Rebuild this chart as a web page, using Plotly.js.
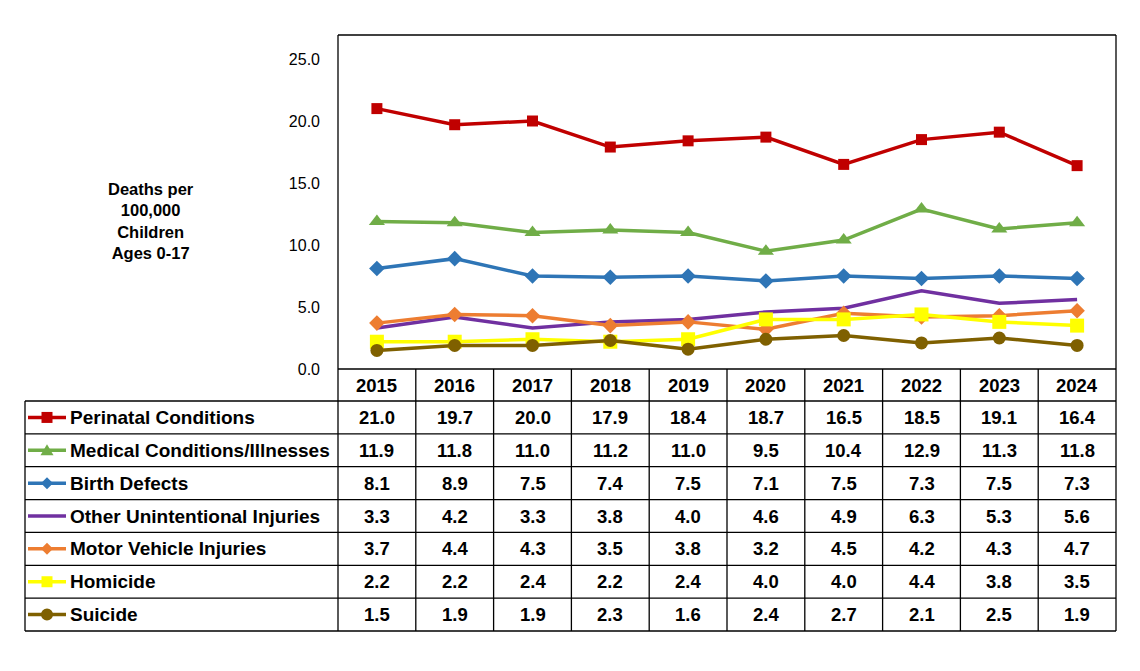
<!DOCTYPE html>
<html><head><meta charset="utf-8">
<script src="https://cdn.plot.ly/plotly-3.0.1.min.js"></script>
<style>html,body{margin:0;padding:0;background:#fff}#chart{width:1140px;height:671px}</style>
</head><body><div id="chart"></div>
<script>
const years = [2015, 2016, 2017, 2018, 2019, 2020, 2021, 2022, 2023, 2024];
const seriesNames = ["Perinatal Conditions", "Medical Conditions/Illnesses", "Birth Defects", "Other Unintentional Injuries", "Motor Vehicle Injuries", "Homicide", "Suicide"];
const perinatal = [21.0, 19.7, 20.0, 17.9, 18.4, 18.7, 16.5, 18.5, 19.1, 16.4];
const medical = [11.9, 11.8, 11.0, 11.2, 11.0, 9.5, 10.4, 12.9, 11.3, 11.8];
const birthDefects = [8.1, 8.9, 7.5, 7.4, 7.5, 7.1, 7.5, 7.3, 7.5, 7.3];
const otherUnintentional = [3.3, 4.2, 3.3, 3.8, 4.0, 4.6, 4.9, 6.3, 5.3, 5.6];
const motorVehicle = [3.7, 4.4, 4.3, 3.5, 3.8, 3.2, 4.5, 4.2, 4.3, 4.7];
const homicide = [2.2, 2.2, 2.4, 2.2, 2.4, 4.0, 4.0, 4.4, 3.8, 3.5];
const suicide = [1.5, 1.9, 1.9, 2.3, 1.6, 2.4, 2.7, 2.1, 2.5, 1.9];
const yTickVals = [0, 5, 10, 15, 20, 25];
const yTitle = "Deaths per<br>100,000<br>Children<br>Ages 0-17";

const seriesValues = [perinatal, medical, birthDefects, otherUnintentional, motorVehicle, homicide, suicide];
const styles = [
  {color: "#C00000", symbol: "square", size: 11},
  {color: "#70AD47", symbol: "triangle-up", size: 14},
  {color: "#2E75B6", symbol: "diamond", size: 12},
  {color: "#7030A0", symbol: null, size: 0},
  {color: "#ED7D31", symbol: "diamond", size: 12},
  {color: "#FFFF00", symbol: "square", size: 14},
  {color: "#7F6000", symbol: "circle", size: 13}
];

const W = 1140, H = 671;
const plotL = 338, plotR = 1116, plotT = 35, plotB = 369;
const tableL = 25, headB = 401, rowH = 32.86;
const px = x => x / W;
const py = y => 1 - y / H;
const FONT = "Liberation Sans, Arial, sans-serif";
const CELL = 18.5, LABEL = 19;

const traces = seriesValues.map((vals, i) => {
  const t = {
    x: years, y: vals, name: seriesNames[i], type: "scatter",
    mode: styles[i].symbol ? "lines+markers" : "lines",
    line: {color: styles[i].color, width: 3.5},
    hoverinfo: "x+y+name"
  };
  if (styles[i].symbol) t.marker = {symbol: styles[i].symbol, size: styles[i].size, color: styles[i].color};
  return t;
});

const shapes = [];
const annotations = [];
const addLine = (x0, y0, x1, y1, xref, yref, w) => shapes.push({type: "line", xref: xref || "paper", yref: yref || "paper", x0, y0, x1, y1, line: {color: "#000", width: w || 1.3}});

addLine(px(plotL), py(plotT), px(plotR), py(plotT));
addLine(px(plotR), py(plotT), px(plotR), py(headB + 7 * rowH));
addLine(px(plotL), py(plotT), px(plotL), py(headB + 7 * rowH));
addLine(px(plotL), py(plotB), px(plotR), py(plotB));
for (let i = 1; i < years.length; i++) {
  addLine(years[0] - 0.5 + i, py(plotB), years[0] - 0.5 + i, py(headB + 7 * rowH), "x", "paper");
}
for (let r = 0; r <= seriesNames.length; r++) {
  addLine(px(tableL), py(headB + r * rowH), px(plotR), py(headB + r * rowH));
}
addLine(px(tableL), py(headB), px(tableL), py(headB + 7 * rowH));

years.forEach(yr => annotations.push({xref: "x", yref: "paper", x: yr, y: py((plotB + headB) / 2), text: String(yr), showarrow: false, font: {family: FONT, size: CELL, color: "#000", weight: "bold"}, xanchor: "center", yanchor: "middle"}));

seriesNames.forEach((name, r) => {
  const cy = headB + (r + 0.5) * rowH;
  annotations.push({xref: "paper", yref: "paper", x: px(68), y: py(cy), text: name, showarrow: false, xanchor: "left", yanchor: "middle", font: {family: FONT, size: LABEL, color: "#000", weight: "bold"}});
  seriesValues[r].forEach((v, j) => annotations.push({xref: "x", yref: "paper", x: years[j], y: py(cy), text: v.toFixed(1), showarrow: false, xanchor: "center", yanchor: "middle", font: {family: FONT, size: CELL, color: "#000", weight: "bold"}}));
  const st = styles[r];
  shapes.push({type: "line", xref: "paper", yref: "paper", x0: px(28), x1: px(66), y0: py(cy), y1: py(cy), line: {color: st.color, width: 3.5}});
  const cx = 47, s = 5.5;
  if (st.symbol === "square") {
    shapes.push({type: "rect", xref: "paper", yref: "paper", x0: px(cx - s), x1: px(cx + s), y0: py(cy - s), y1: py(cy + s), fillcolor: st.color, line: {width: 0}});
  } else if (st.symbol === "diamond") {
    shapes.push({type: "path", xref: "paper", yref: "paper", path: `M ${px(cx)} ${py(cy - 6)} L ${px(cx + 6)} ${py(cy)} L ${px(cx)} ${py(cy + 6)} L ${px(cx - 6)} ${py(cy)} Z`, fillcolor: st.color, line: {width: 0}});
  } else if (st.symbol === "triangle-up") {
    shapes.push({type: "path", xref: "paper", yref: "paper", path: `M ${px(cx)} ${py(cy - 6)} L ${px(cx + 6.5)} ${py(cy + 5)} L ${px(cx - 6.5)} ${py(cy + 5)} Z`, fillcolor: st.color, line: {width: 0}});
  } else if (st.symbol === "circle") {
    shapes.push({type: "circle", xref: "paper", yref: "paper", x0: px(cx - 6), x1: px(cx + 6), y0: py(cy - 6), y1: py(cy + 6), fillcolor: st.color, line: {width: 0}});
  }
});

annotations.push({xref: "paper", yref: "paper", x: px(151), y: py(221), text: yTitle, showarrow: false, xanchor: "center", yanchor: "middle", align: "center", font: {family: FONT, size: 16.5, color: "#000", weight: "bold"}});

const yMax = 25 * (plotB - plotT) / (plotB - 59);
const layout = {
  width: W, height: H,
  margin: {l: 0, r: 0, t: 0, b: 0, pad: 0},
  paper_bgcolor: "#fff", plot_bgcolor: "#fff",
  showlegend: false,
  xaxis: {domain: [px(plotL), px(plotR)], range: [years[0] - 0.5, years[years.length - 1] + 0.5], showticklabels: false, showgrid: false, zeroline: false, showline: false, fixedrange: true},
  yaxis: {domain: [py(plotB), py(plotT)], range: [0, yMax], tickvals: yTickVals, ticktext: yTickVals.map(v => v.toFixed(1)), showgrid: false, zeroline: false, showline: false, ticks: "", ticklabelstandoff: 17, tickfont: {family: FONT, size: 16, color: "#000"}, fixedrange: true},
  shapes, annotations
};
Plotly.newPlot("chart", traces, layout, {displayModeBar: false, staticPlot: true});
</script></body></html>
